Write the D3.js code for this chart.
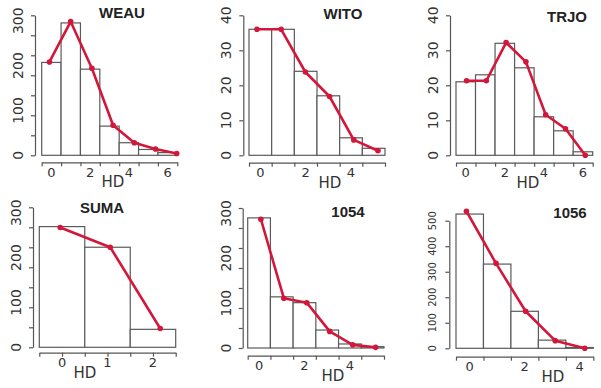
<!DOCTYPE html>
<html>
<head>
<meta charset="utf-8">
<script src="https://cdn.jsdelivr.net/npm/d3@7"></script>
<style>
  body { margin: 0; background: #fff; }
  svg { display: block; }
</style>
</head>
<body>
<div id="chart"></div>
<script>
"use strict"

/* Configuration variables: drawing */
let svgWidth = 601;
let svgHeight = 388;

/* Data: histogram counts and fitted line per sample */
let weauBars = [207, 295, 192, 65, 28, 13, 6];
let weauLine = [208, 298, 194, 67, 28, 14, 4];
let witoBars = [36, 36, 24, 17, 5, 2];
let witoLine = [36, 36, 23.8, 16.8, 4.4, 1.3];
let trjoBars = [21, 23, 32, 25, 11, 7, 1];
let trjoLine = [21.3, 21.3, 32.2, 26.7, 11.6, 7.6, 0];
let sumaBars = [269, 223, 40];
let sumaLine = [267, 223, 42];
let s1054Bars = [290, 114, 101, 40, 9, 3];
let s1054Line = [287, 111, 101, 37, 7, 1.5];
let s1056Bars = [526, 330, 145, 32, 3];
let s1056Line = [537, 333, 145, 30, 0];

/* Tick labels */
let labels300 = [0, 100, 200, 300];
let labels40 = [0, 10, 20, 30, 40];
let labels500 = [0, 100, 200, 300, 400, 500];
let hdLabels6 = [0, 2, 4, 6];
let hdLabels4 = [0, 2, 4];
let hdLabels2 = [0, 1, 2];

let lineColor = "#d3173a";
let axisColor = "#555";

/* Create drawing canvas */
let svg = d3.select("#chart")
    .append("svg")
    .attr("width", svgWidth)
    .attr("height", svgHeight);

/* Layout of each small histogram */
let panels = [
    {title: "WEAU", bars: weauBars, line: weauLine, yMax: 312, yMinor: 7, yLabels: labels300, xLabels: hdLabels6,
     left: 35, zeroY: 155.3, topY: 15.3, x0: 41.7, x1: 177.3, axisY: 162.3, halfTicks: false,
     lineSpan: [-0.1, 6.47], hdX: 113, titleX: 122, titleY: 12, yFont: 14},
    {title: "WITO", bars: witoBars, line: witoLine, yMax: 40, yMinor: 4, yLabels: labels40, xLabels: hdLabels4,
     left: 243.3, zeroY: 155.3, topY: 15.3, x0: 249, x1: 385, axisY: 162.7, halfTicks: false,
     lineSpan: [-0.15, 5.19], hdX: 330, titleX: 343, titleY: 13, yFont: 14},
    {title: "TRJO", bars: trjoBars, line: trjoLine, yMax: 40, yMinor: 4, yLabels: labels40, xLabels: hdLabels6,
     left: 450, zeroY: 155.3, topY: 15.3, x0: 456, x1: 592.7, axisY: 162.7, halfTicks: false,
     lineSpan: [0.04, 6.12], hdX: 528, titleX: 567, titleY: 16, yFont: 14},
    {title: "SUMA", bars: sumaBars, line: sumaLine, yMax: 312, yMinor: 7, yLabels: labels300, xLabels: hdLabels2,
     left: 33, zeroY: 347.3, topY: 207.3, x0: 39.3, x1: 175.7, axisY: 352.7, halfTicks: true,
     lineSpan: [-0.04, 2.16], hdX: 85, titleX: 102, titleY: 207, yFont: 14},
    {title: "1054", bars: s1054Bars, line: s1054Line, yMax: 312, yMinor: 7, yLabels: labels300, xLabels: hdLabels4,
     left: 242.7, zeroY: 348, topY: 208, x0: 247.7, x1: 384, axisY: 355.7, halfTicks: false,
     lineSpan: [0.08, 5.13], hdX: 333, titleX: 348, titleY: 211, yFont: 14},
    {title: "1056", bars: s1056Bars, line: s1056Line, yMax: 500, yMinor: 5, yLabels: labels500, xLabels: hdLabels4,
     left: 449.3, zeroY: 348.3, topY: 220.7, x0: 456, x1: 593.3, axisY: 356.7, halfTicks: false,
     lineSpan: [-0.12, 4.19], hdX: 553, titleX: 570, titleY: 212, yFont: 10}
];

panels.forEach(function(p) {
    let n = p.bars.length;
    let g = svg.append("g");

    // bars: bins centred on the integers 0..n-1
    let xScale = d3.scaleLinear()
        .domain([-0.5, n - 0.5])
        .range([p.x0, p.x1]);

    let yScale = d3.scaleLinear()
        .domain([0, p.yMax])
        .range([p.zeroY, p.topY]);

    // the fitted line sits on a slightly different horizontal span
    let lineX = d3.scaleLinear()
        .domain([0, n - 1])
        .range([xScale(p.lineSpan[0]), xScale(p.lineSpan[1])]);

    /* Histogram bars */
    g.selectAll("rect")
        .data(p.bars)
        .join("rect")
        .attr("x", function(d, i) { return xScale(i - 0.5); })
        .attr("y", function(d) { return yScale(d); })
        .attr("width", function(d, i) { return xScale(i + 0.5) - xScale(i - 0.5); })
        .attr("height", function(d) { return yScale(0) - yScale(d); })
        .attr("fill", "white")
        .attr("stroke", "#5a5a5a")
        .attr("stroke-width", 1.2);

    /* Y axis: tick marks, then rotated labels */
    let yTickValues = d3.range(p.yMinor + 1).map(function(i) { return p.yMax * i / p.yMinor; });
    let yAxis = g.append("g")
        .attr("transform", "translate(" + p.left + ",0)")
        .call(d3.axisLeft(yScale).tickValues(yTickValues).tickFormat("").tickSize(4).tickSizeOuter(0));
    yAxis.selectAll("path, line").attr("stroke", axisColor).attr("stroke-width", 1.2);

    g.selectAll("text.ylab")
        .data(p.yLabels)
        .join("text")
        .attr("class", "ylab")
        .attr("transform", function(d) {
            return "translate(" + (p.left - 17) + "," + yScale(d) + ") rotate(-90)";
        })
        .attr("text-anchor", "middle")
        .attr("dominant-baseline", "central")
        .attr("font-family", "DejaVu Sans, sans-serif")
        .attr("font-size", p.yFont)
        .attr("fill", "#333")
        .text(function(d) { return d; });

    /* X axis: ticks at the bin breaks */
    let xTickValues = p.halfTicks ? d3.range(-0.5, n, 0.5) : d3.range(-0.5, n, 1);
    let xAxis = g.append("g")
        .attr("transform", "translate(0," + p.axisY + ")")
        .call(d3.axisBottom(xScale).tickValues(xTickValues).tickFormat("").tickSize(4).tickSizeOuter(0));
    xAxis.selectAll("path, line").attr("stroke", axisColor).attr("stroke-width", 1.2);

    g.selectAll("text.xlab")
        .data(p.xLabels)
        .join("text")
        .attr("class", "xlab")
        .attr("x", function(d) { return xScale(d); })
        .attr("y", p.axisY + 10)
        .attr("text-anchor", "middle")
        .attr("dominant-baseline", "central")
        .attr("font-family", "DejaVu Sans, sans-serif")
        .attr("font-size", 13)
        .attr("fill", "#333")
        .text(function(d) { return d; });

    // axis title
    g.append("text")
        .attr("x", p.hdX)
        .attr("y", p.axisY + 20)
        .attr("text-anchor", "middle")
        .attr("dominant-baseline", "central")
        .attr("font-family", "DejaVu Sans, sans-serif")
        .attr("font-size", 15)
        .attr("fill", "#333")
        .text("HD");

    /* Fitted line with points */
    let line = d3.line()
        .x(function(d, i) { return lineX(i); })
        .y(function(d) { return yScale(d); });

    g.append("path")
        .datum(p.line)
        .attr("d", line)
        .attr("fill", "none")
        .attr("stroke", lineColor)
        .attr("stroke-width", 2.6)
        .attr("stroke-linejoin", "round");

    g.selectAll("circle")
        .data(p.line)
        .join("circle")
        .attr("cx", function(d, i) { return lineX(i); })
        .attr("cy", function(d) { return yScale(d); })
        .attr("r", 2.8)
        .attr("fill", lineColor);

    /* Panel title */
    g.append("text")
        .attr("x", p.titleX)
        .attr("y", p.titleY)
        .attr("text-anchor", "middle")
        .attr("dominant-baseline", "central")
        .attr("font-family", "Liberation Sans, Arial, sans-serif")
        .attr("font-weight", "bold")
        .attr("font-size", 15)
        .attr("fill", "#222")
        .text(p.title);
});
</script>
</body>
</html>
